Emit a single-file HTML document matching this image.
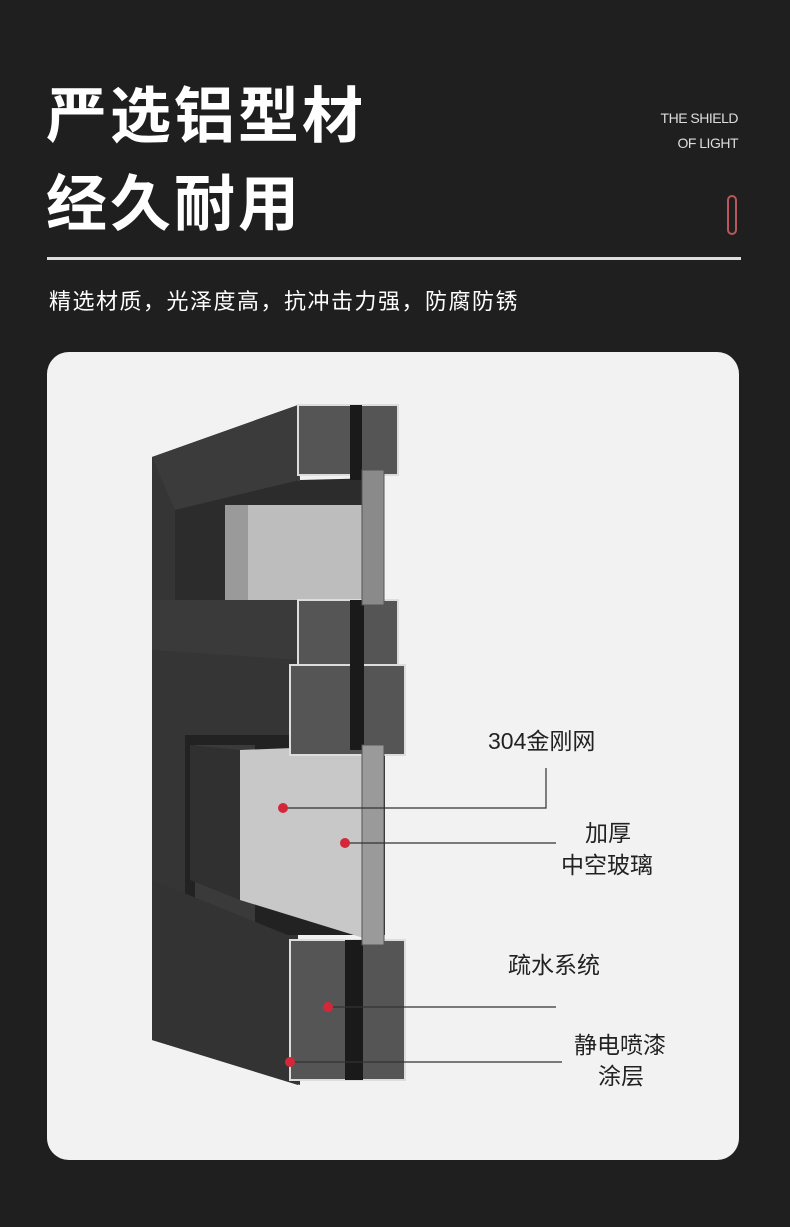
<!DOCTYPE html>
<html><head><meta charset="utf-8"><style>
body{margin:0;width:790px;height:1227px;background:#1f1f1f;overflow:hidden;font-family:"Liberation Sans","Noto Sans CJK SC",sans-serif;position:relative}
.t{position:absolute;left:46px;color:#fff;font-size:61px;font-weight:bold;letter-spacing:3px;line-height:1}
.en{position:absolute;right:52px;color:#ddd;font-size:14px;text-align:right;line-height:25px;top:106px;letter-spacing:-0.5px}
.pill{position:absolute;left:727px;top:195px;width:10px;height:40px;border:2px solid #b9585a;border-radius:7px;box-sizing:border-box}
.line{position:absolute;left:47px;top:257px;width:694px;height:3px;background:#ddd}
.sub{position:absolute;left:49px;top:284px;color:#fff;font-size:22px;letter-spacing:1.5px}
.card{position:absolute;left:47px;top:352px;width:692px;height:808px;background:#f2f2f2;border-radius:22px;overflow:hidden}
</style></head><body>
<div class="t" style="top:86px">严选铝型材</div>
<div class="t" style="top:174px">经久耐用</div>
<div class="en">THE SHIELD<br>OF LIGHT</div>
<div class="pill"></div>
<div class="line"></div>
<div class="sub">精选材质，光泽度高，抗冲击力强，防腐防锈</div>
<div class="card">
<svg width="692" height="808" viewBox="47 352 692 808" xmlns="http://www.w3.org/2000/svg">
<polygon points="152,457 298,405 298,1085 152,1040" fill="#353535"/>
<polygon points="152,457 298,405 300,480 175,510" fill="#3b3b3b"/>
<polygon points="175,510 300,480 380,478 380,600 175,600" fill="#2c2c2c"/>
<rect x="225" y="505" width="140" height="95" fill="#9a9a9a"/>
<rect x="248" y="505" width="115" height="95" fill="#bdbdbd"/>
<polygon points="152,600 300,600 300,660 152,650" fill="#3a3a3a"/>
<rect x="185" y="735" width="200" height="200" fill="#222"/>
<rect x="195" y="745" width="60" height="180" fill="#3a3a3a"/>
<polygon points="240,750 370,745 370,940 240,900" fill="#c8c8c8"/>
<polygon points="190,745 240,750 240,900 190,880" fill="#303030"/>
<polygon points="152,880 300,940 300,1085 152,1040" fill="#333"/>
<g fill="#555" stroke="#ddd" stroke-width="2">
<rect x="298" y="405" width="100" height="70"/>
<rect x="298" y="600" width="100" height="80"/>
<rect x="290" y="665" width="115" height="90"/>
<rect x="290" y="940" width="115" height="140"/>
</g>
<g fill="#1a1a1a"><rect x="350" y="405" width="12" height="75"/><rect x="350" y="600" width="14" height="150"/><rect x="345" y="940" width="18" height="140"/></g>
<rect x="362" y="470" width="22" height="135" fill="#8a8a8a" stroke="#555"/>
<rect x="362" y="745" width="22" height="200" fill="#9a9a9a" stroke="#555"/>
<g stroke="#333" stroke-width="1.2" fill="none">
<polyline points="283,808 546,808 546,768"/>
<line x1="345" y1="843" x2="556" y2="843"/>
<line x1="328" y1="1007" x2="556" y2="1007"/>
<line x1="290" y1="1062" x2="562" y2="1062"/>
</g>
<g fill="#d3283a"><circle cx="283" cy="808" r="5"/><circle cx="345" cy="843" r="5"/><circle cx="328" cy="1007" r="5"/><circle cx="290" cy="1062" r="5"/></g>
<g font-size="23" fill="#222" font-family="Liberation Sans,Noto Sans CJK SC,sans-serif">
<text x="488" y="749">304金刚网</text>
<text x="585" y="841">加厚</text>
<text x="561" y="873">中空玻璃</text>
<text x="508" y="973">疏水系统</text>
<text x="574" y="1053">静电喷漆</text>
<text x="598" y="1084">涂层</text>
</g>
</svg>
</div>
</body></html>
